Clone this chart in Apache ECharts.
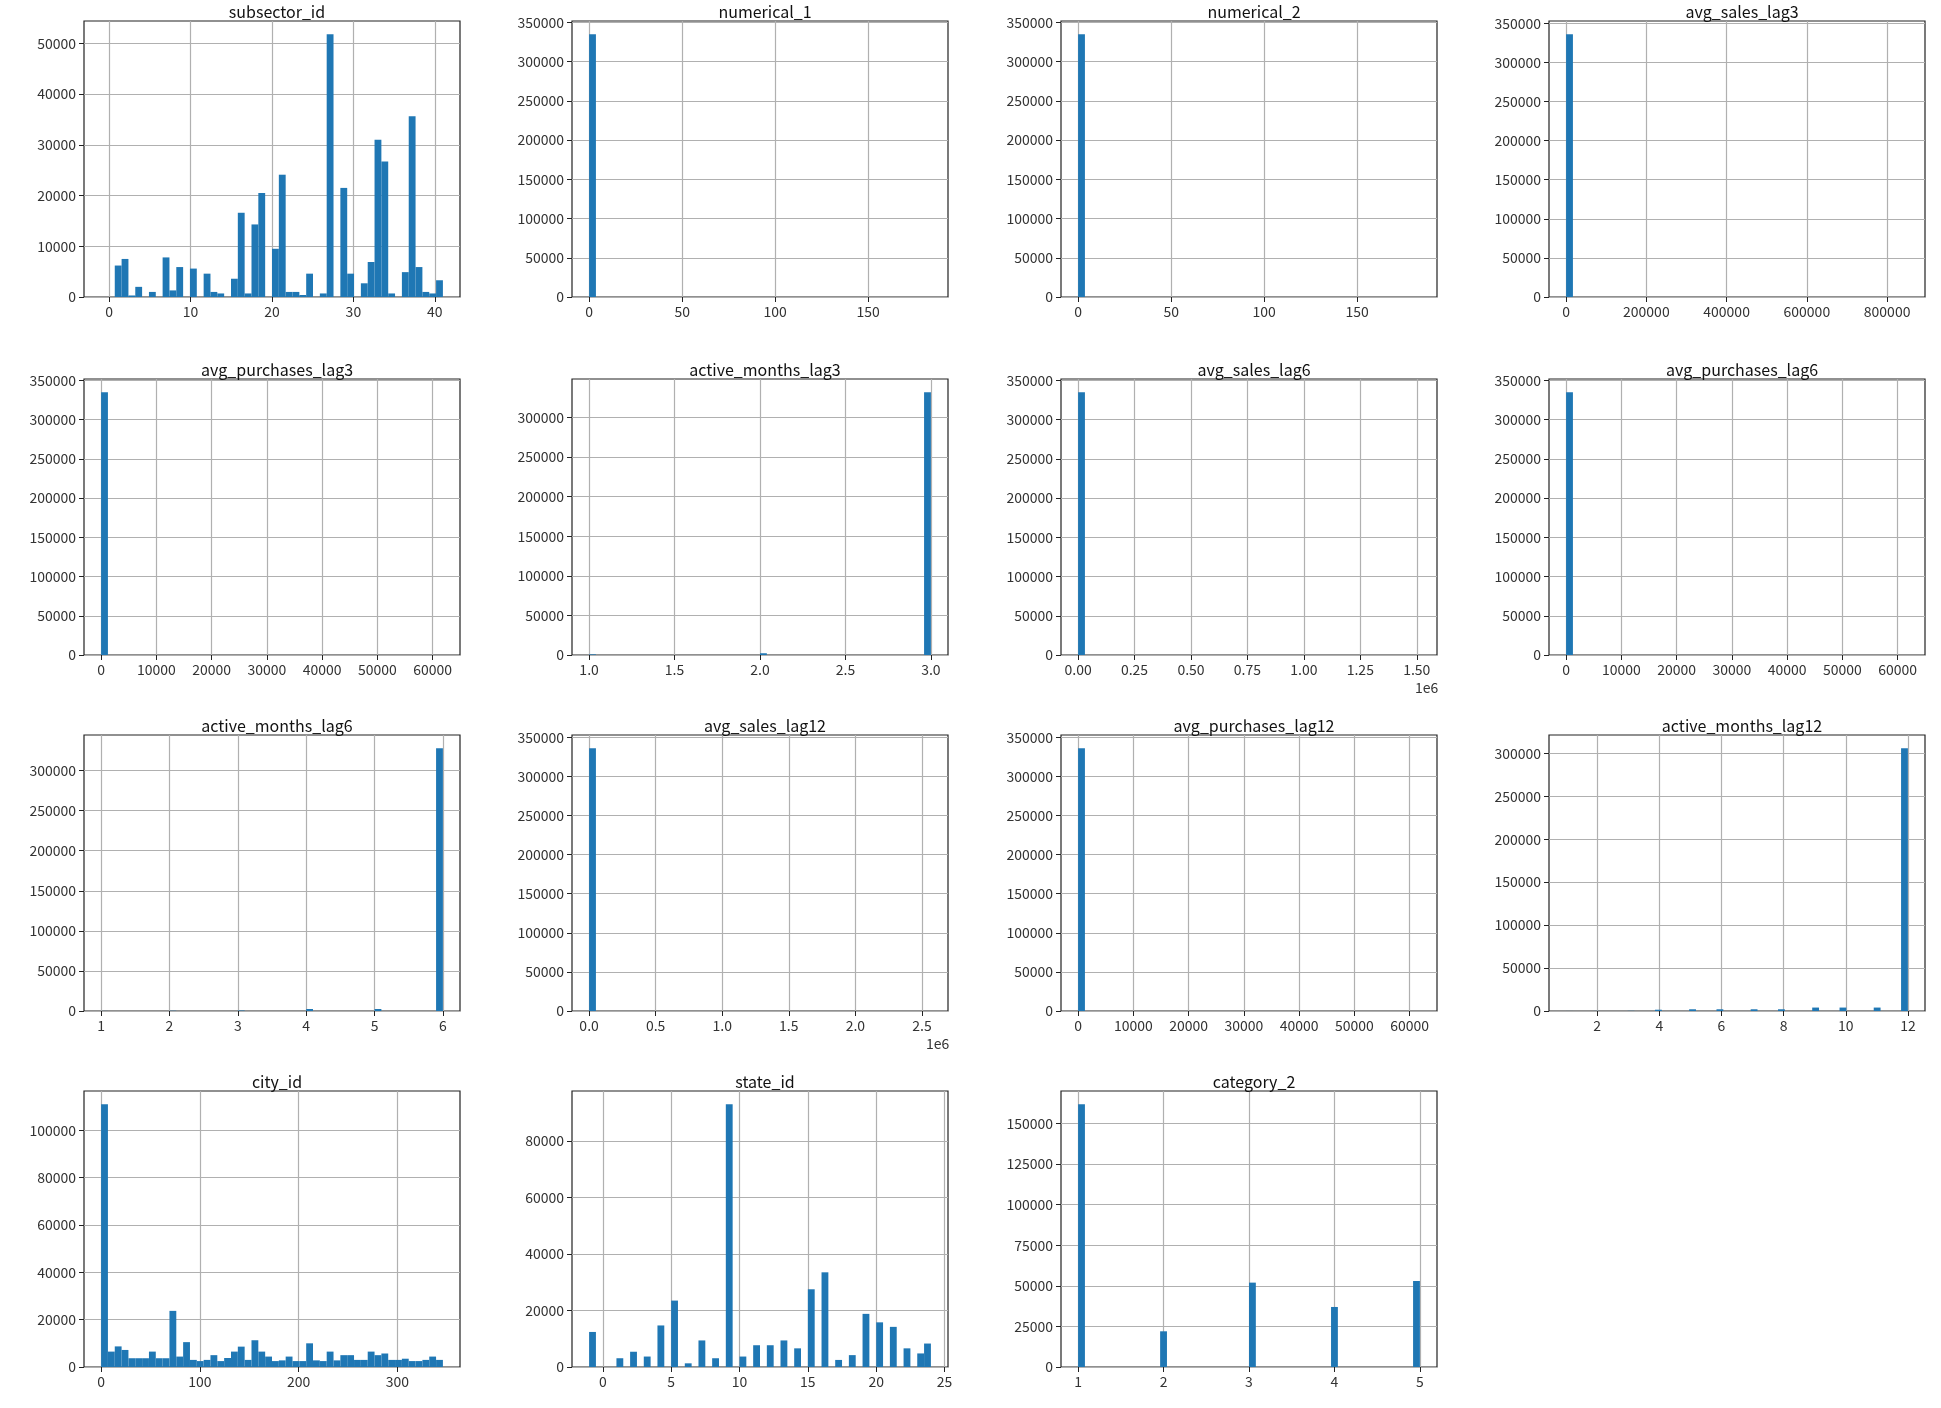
<!DOCTYPE html>
<html><head><meta charset="utf-8">
<script src="https://cdn.jsdelivr.net/npm/echarts@6/dist/echarts.min.js"></script>
<style>html,body{margin:0;padding:0;background:#fff}#c{width:1941px;height:1408px}</style>
</head><body><div id="c"></div>
<script>
// ---- data ----
const titles = ['subsector_id','numerical_1','numerical_2','avg_sales_lag3','avg_purchases_lag3','active_months_lag3','avg_sales_lag6','avg_purchases_lag6','active_months_lag6','avg_sales_lag12','avg_purchases_lag12','active_months_lag12','city_id','state_id','category_2'];
// dense bin counts
const subsectorCounts = [0,0,6200,7500,300,2000,0,1000,0,7800,1300,5900,0,5600,0,4600,1000,700,0,3600,16600,700,14300,20500,0,9500,24100,1000,1000,400,4600,0,700,51800,0,21500,4600,0,2700,6900,31000,26700,700,0,4900,35600,5900,1000,700,3300];
const cityCounts = [111000,6500,8700,7200,3700,3700,3700,6500,3700,3700,23700,4400,10500,3000,2500,3000,5000,2500,3800,6500,8600,3000,11300,6500,4400,2500,2800,4400,2500,2500,10000,2800,2500,6500,2800,5000,5000,3000,3000,6500,5000,5700,3000,3000,3500,2500,2500,3000,4400,3000];
// sparse value counts
const stateValues = [-1,0,1,2,3,4,5,6,7,8,9,10,11,12,13,14,15,16,17,18,19,20,21,22,23,24];
const stateCounts = [12400,0,3100,5400,3700,14700,23500,1300,9400,3100,93000,3700,7700,7700,9400,6600,27500,33500,2500,4200,18800,15800,14200,6600,4800,8300];
const category2Values = [1,2,3,4,5];
const category2Counts = [162000,22000,52000,37000,53000];
const activeLag3Values = [1,2,3];
const activeLag3Counts = [800,2200,332000];
const activeLag6Values = [1,2,3,4,5,6];
const activeLag6Counts = [100,300,600,2500,2500,328000];
const activeLag12Values = [1,2,3,4,5,6,7,8,9,10,11,12];
const activeLag12Counts = [50,100,200,1500,2000,2000,2000,2000,4000,4000,4000,306000];
const numerical1Counts = [335000];
const numerical2Counts = [335000];
const salesLag3Counts = [336000];
const purchLag3Counts = [335000];
const salesLag6Counts = [335000];
const purchLag6Counts = [335000];
const salesLag12Counts = [336000];
const purchLag12Counts = [336000];
// ranges [lo, hi]
const ranges = [[-1,41],[-0.06,183.7],[-0.06,183.7],[0,851844],[0.33,61851],[1,3],[0,1513959],[0.33,61851],[1,6],[0,2567408],[0.3,61851],[1,12],[0,346],[-1,24],[1,5]];
// tick labels
const xTicks = [[0,10,20,30,40],[0,50,100,150],[0,50,100,150],[0,200000,400000,600000,800000],[0,10000,20000,30000,40000,50000,60000],[1,1.5,2,2.5,3],[0,250000,500000,750000,1000000,1250000,1500000],[0,10000,20000,30000,40000,50000,60000],[1,2,3,4,5,6],[0,500000,1000000,1500000,2000000,2500000],[0,10000,20000,30000,40000,50000,60000],[2,4,6,8,10,12],[0,100,200,300],[0,5,10,15,20,25],[1,2,3,4,5]];
const yStep = [10000,50000,50000,50000,50000,50000,50000,50000,50000,50000,50000,50000,20000,20000,25000];

const dense = {0:subsectorCounts, 12:cityCounts};
const sparse = {1:[[0],numerical1Counts],2:[[0],numerical2Counts],3:[[0],salesLag3Counts],4:[[0],purchLag3Counts],5:[activeLag3Values,activeLag3Counts],6:[[0],salesLag6Counts],7:[[0],purchLag6Counts],8:[activeLag6Values,activeLag6Counts],9:[[0],salesLag12Counts],10:[[0],purchLag12Counts],11:[activeLag12Values,activeLag12Counts],13:[stateValues,stateCounts],14:[category2Values,category2Counts]};

function bins(i){
  const [lo,hi]=ranges[i];
  if(dense[i]){const c=dense[i],w=(hi-lo)/c.length;return c.map((v,k)=>[lo+k*w,lo+(k+1)*w,v]);}
  const n=50,w=(hi-lo)/n,[vals,cnt]=sparse[i],out=[];
  vals.forEach((v,k)=>{let b=Math.min(Math.floor((v-lo)/w+1e-9),n-1);b=Math.max(b,0);out.push([lo+b*w,lo+(b+1)*w,cnt[k]]);});
  return out;
}
function fmtX(i,v){
  if(i===6) return (v/1e6).toFixed(2);
  if(i===9) return (v/1e6).toFixed(1);
  if(i===5) return v.toFixed(1);
  return String(v);
}
const colL=[84,572,1061,1549], rowT=[21,379,735,1091], W=376, H=276;
const font='"Noto Sans CJK SC", "DejaVu Sans", sans-serif';
const grid=[],xAxis=[],yAxis=[],series=[],title=[],graphic=[];
titles.forEach((t,i)=>{
  const r=Math.floor(i/4),c=i%4;
  const [lo,hi]=ranges[i],pad=(hi-lo)*0.05;
  const data=bins(i);
  const ymax=Math.max(...data.map(d=>d[2]))*1.05;
  const yv=[];for(let v=0;v<=ymax;v+=yStep[i])yv.push(v);
  grid.push({left:colL[c],top:rowT[r],width:W,height:H,show:true,borderColor:'#222',borderWidth:1.2,backgroundColor:'#fff'});
  xAxis.push({type:'value',gridIndex:i,min:lo-pad,max:hi+pad,position:'bottom',
    axisLine:{show:false,onZero:false},axisTick:{show:true,customValues:xTicks[i],length:5,lineStyle:{color:'#222'}},
    axisLabel:{customValues:xTicks[i],formatter:v=>fmtX(i,v),fontSize:14,color:'#333',fontFamily:font,margin:8},
    splitLine:{show:true,lineStyle:{color:'#b0b0b0',width:1.2}}});
  yAxis.push({type:'value',gridIndex:i,min:0,max:ymax,position:'left',
    axisLine:{show:false,onZero:false},axisTick:{show:true,customValues:yv,length:5,lineStyle:{color:'#222'}},
    axisLabel:{customValues:yv,formatter:v=>String(v),fontSize:14,color:'#333',fontFamily:font,margin:8},
    splitLine:{show:true,lineStyle:{color:'#b0b0b0',width:1.2}}});
  series.push({type:'custom',xAxisIndex:i,yAxisIndex:i,data:data,encode:{x:[0,1],y:2},clip:true,
    renderItem:(p,api)=>{const a=api.coord([api.value(0),0]),b=api.coord([api.value(1),api.value(2)]);
      if(api.value(2)<=0)return null;
      return {type:'rect',shape:{x:a[0],y:b[1],width:b[0]-a[0],height:a[1]-b[1]},style:{fill:'#1f77b4'}};}});
  title.push({text:t,left:colL[c]+W/2,top:rowT[r]-22,textAlign:'center',textStyle:{fontSize:16,fontWeight:'normal',color:'#111',fontFamily:font}});
  if(i===6||i===9) graphic.push({type:'text',left:colL[c]+W-22,top:rowT[r]+H+26,style:{text:'1e6',fontSize:14,fill:'#333',fontFamily:font}});
});
const chart=echarts.init(document.getElementById('c'));
chart.setOption({animation:false,backgroundColor:'#fff',title,grid,xAxis,yAxis,series,graphic});
</script></body></html>
